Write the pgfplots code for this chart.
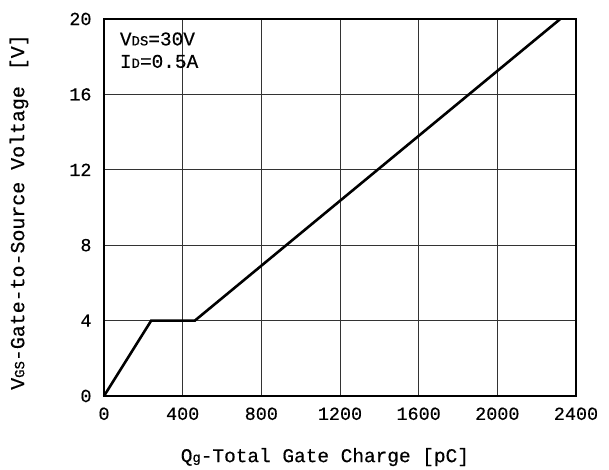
\documentclass[border=0pt]{standalone}
\usepackage{fontspec}
\setmainfont[FakeBold=0.4]{Liberation Mono}
\usepackage{pgfplots}
\pgfplotsset{compat=1.18}
\newcommand{\sub}[1]{{\fontsize{14}{14}\selectfont #1}}
\begin{document}
\begin{tikzpicture}
\begin{axis}[
  scale only axis,
  width=472bp, height=377bp,
  xmin=0, xmax=2400, ymin=0, ymax=20,
  xtick={0,400,...,2400},
  ytick={0,4,...,20},
  grid=major,
  major grid style={line width=1.0pt, draw=black!80},
  axis line style={line width=2.6pt},
  tick style={draw=none},
  /pgf/number format/assume math mode=true,
  /pgf/number format/1000 sep={},
  ticklabel style={font=\fontsize{18.5}{20}\selectfont},
  xticklabel style={yshift=-8bp},
  yticklabel style={xshift=-9bp},
  xlabel={Q\sub{g}-Total Gate Charge [pC]},
  ylabel={V\sub{GS}-Gate-to-Source Voltage\hspace{4bp} [V]},
  xlabel style={font=\fontsize{19.5}{22}\selectfont, at={(axis description cs:0.468,-0.162)}, anchor=center},
  ylabel style={font=\fontsize{20}{22}\selectfont, at={(axis description cs:-0.18,0.488)}, anchor=center},
  clip=false,
]
% gate charge curve: rise, Miller plateau, final rise
\addplot[line width=2.6pt, black, line join=miter] coordinates {
  (0,0) (240,4) (462,4) (2320,20)
};
\node[anchor=north west, align=left, font=\fontsize{19.5}{22.5}\selectfont, inner sep=0pt]
  at (axis cs:80,19.3) {V\sub{DS}=30V\\I\sub{D}=0.5A};
\end{axis}
\path (current axis.south west) ++(-104bp,-74bp) coordinate (bl);
\path (current axis.north east) ++(33bp,19bp) coordinate (tr);
\useasboundingbox (bl) rectangle (tr);
\end{tikzpicture}
\end{document}
